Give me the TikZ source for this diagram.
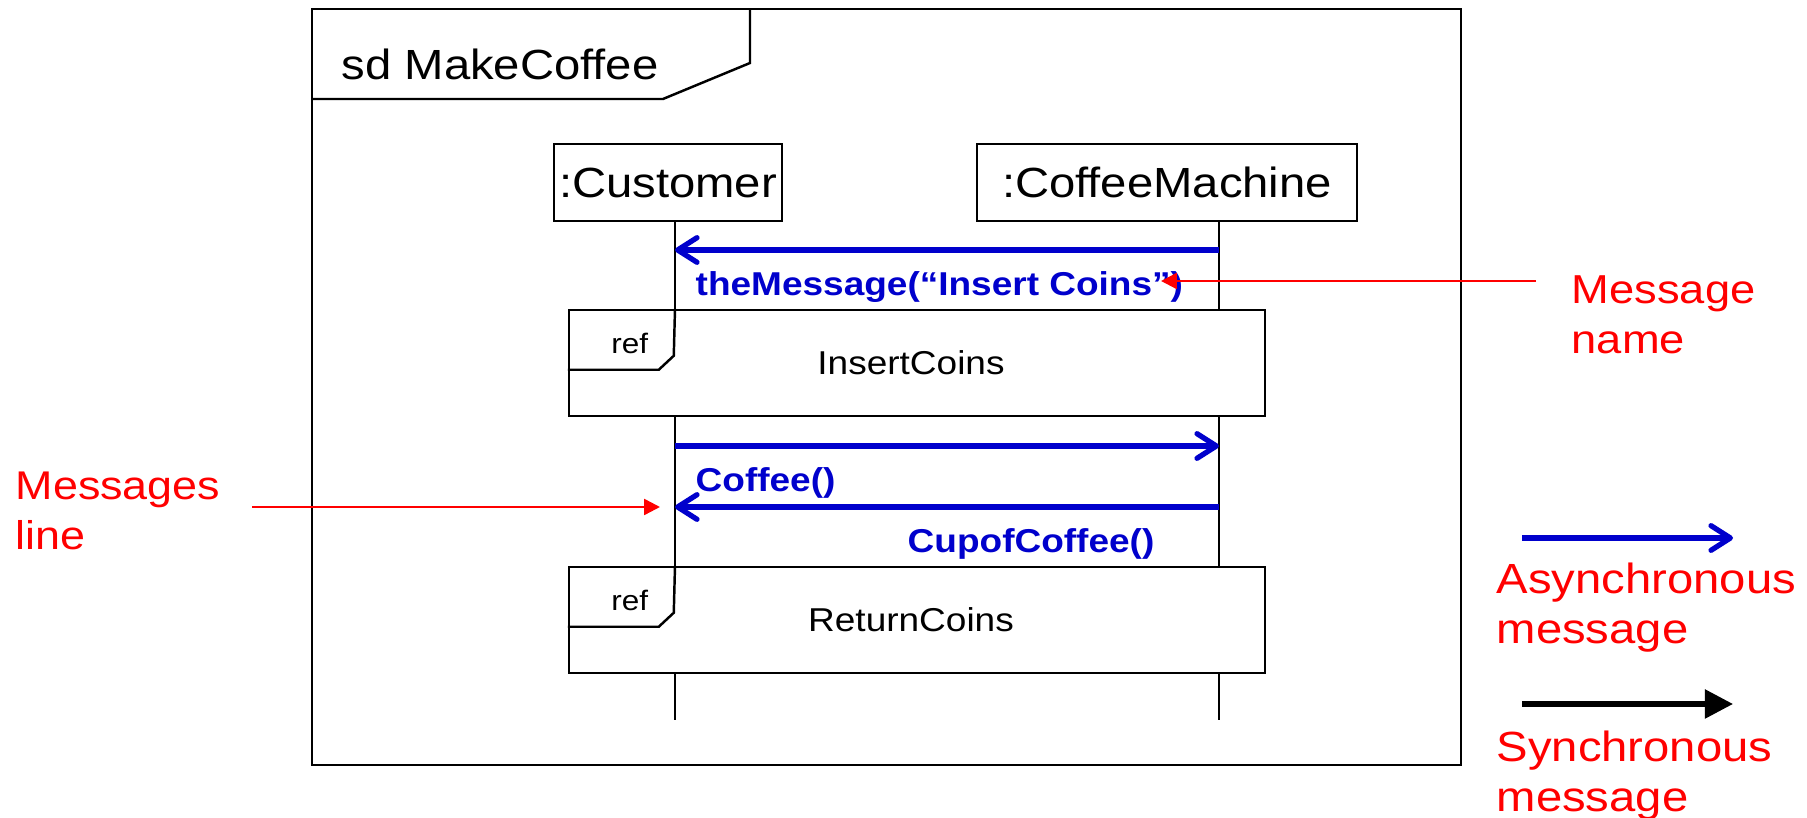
\documentclass[tikz,border=0pt]{standalone}
\usepackage{fontspec}
\setmainfont{Liberation Sans}[FakeStretch=1.12]
\usetikzlibrary{arrows.meta}

\definecolor{msgblue}{RGB}{0,0,204}

\tikzset{
  lifebox/.style={draw, line width=0.7pt, inner sep=0pt, minimum height=0.77cm, font=\fontsize{12}{14}\selectfont},
  refbox/.style={draw, fill=white, line width=0.7pt, minimum width=6.96cm, minimum height=1.06cm, inner sep=0pt, font=\fontsize{9.4}{11}\selectfont},
  async/.style={msgblue, line width=1.5pt, -{Straight Barb[length=5.5pt,width=7pt,round]}},
  sync/.style={black, line width=1.5pt, -{Triangle[length=8pt,width=8pt]}},
  msglabel/.style={msgblue, font=\fontsize{9.4}{11}\selectfont\bfseries, anchor=base west, inner sep=0pt},
  note/.style={red, font=\fontsize{12}{14.2}\selectfont, align=left, anchor=north west, inner sep=0pt},
  notearrow/.style={red, line width=0.7pt, -{Triangle[length=4.5pt,width=4.5pt]}},
}

\begin{document}
\begin{tikzpicture}
    \useasboundingbox (0,0) rectangle (18.07,-8.18);

    % frame
    \draw[line width=0.7pt] (3.12,-0.09) rectangle (14.61,-7.65);
    \draw[line width=0.7pt] (3.12,-0.99) -- (6.63,-0.99) -- (7.50,-0.63) -- (7.50,-0.09);
    \node[anchor=base west, inner sep=0pt, font=\fontsize{12}{14}\selectfont] (title) at (3.41,-0.80) {sd MakeCoffee};

    % lifelines
    \node[lifebox, minimum width=2.28cm] (cust) at (6.68,-1.825) {:Customer};
    \node[lifebox, minimum width=3.80cm] (mach) at (11.67,-1.825) {:CoffeeMachine};
    \coordinate (custEnd) at (6.75,-7.20);
    \coordinate (machEnd) at (12.19,-7.20);
    \draw[line width=0.7pt] (cust.south -| custEnd) -- (custEnd);
    \draw[line width=0.7pt] (mach.south -| machEnd) -- (machEnd);

    % ref boxes
    \node[refbox] (insert) at (9.17,-3.63) {InsertCoins\hspace*{0.12cm}};
    \node[refbox] (return) at (9.17,-6.20) {ReturnCoins\hspace*{0.12cm}};
    \foreach \r in {insert, return} {
        \draw[line width=0.7pt] ([yshift=-0.61cm]\r.north west) -- ++(0.91,0) -- ++(0.15,0.14) -- (\r.north west -| custEnd);
        \node[anchor=base west, inner sep=0pt, font=\fontsize{8}{9}\selectfont] (\r tag) at ([xshift=0.43cm,yshift=-0.45cm]\r.north west) {ref};
    }

    % messages
    \foreach \n/\y in {a/2.50, b/4.46, c/5.07} {
        \coordinate (cust\n) at (6.75,-\y);
        \coordinate (mach\n) at (12.19,-\y);
    }
    \draw[async] (macha) -- (custa);
    \draw[async] (custb) -- (machb);
    \draw[async] (machc) -- (custc);

    \node[msglabel] (theMsg) at (6.95,-2.96) {theMessage(“Insert Coins”)};
    \node[msglabel] (coffee) at (6.95,-4.92) {Coffee()};
    \node[msglabel] (cup) at (9.07,-5.53) {CupofCoffee()};

    % notes
    \node[note, font=\fontsize{11.5}{14.2}\selectfont] (msgName) at (15.71,-2.75) {Message\\name};
    \coordinate (nameTail) at (15.36,-2.81);
    \coordinate (nameTip) at (11.61,-2.81);
    \draw[notearrow] (nameTail) -- (nameTip);

    \node[note, font=\fontsize{11.4}{14.2}\selectfont] (msgLine) at (0.15,-4.71) {Messages\\line};
    \coordinate (lineTail) at (2.52,-5.07);
    \draw[notearrow] (lineTail) -- ([xshift=-1.5mm]custc);

    % legend
    \coordinate (asyncA) at (15.22,-5.38);
    \coordinate (asyncB) at (17.33,-5.38);
    \draw[async] (asyncA) -- (asyncB);
    \node[note] (asyncTxt) at (14.96,-5.62) {Asynchronous\\message};

    \coordinate (syncA) at (15.22,-7.04);
    \coordinate (syncB) at (17.33,-7.04);
    \draw[sync] (syncA) -- (syncB);
    \node[note] (syncTxt) at (14.96,-7.30) {Synchronous\\message};

\end{tikzpicture}
\end{document}
